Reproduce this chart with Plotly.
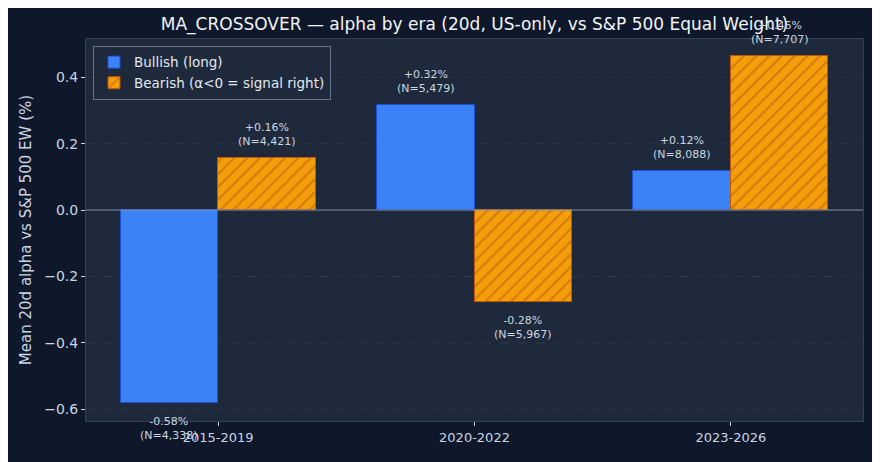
import plotly.graph_objects as go

eras = ["2015-2019", "2020-2022", "2023-2026"]
bull_alpha = [-0.58, 0.316, 0.117]
bull_n = [4338, 5479, 8088]
bear_alpha = [0.156, -0.277, 0.463]
bear_n = [4421, 5967, 7707]
y_ticks = [-0.6, -0.4, -0.2, 0.0, 0.2, 0.4]

xpos = list(range(len(eras)))
W = 0.38

fig = go.Figure()
fig.add_trace(go.Bar(
    x=xpos, y=bull_alpha, width=W, offset=-W, name="Bullish (long)",
    marker=dict(color="#3b82f6", line=dict(color="#1d4ed8", width=1)),
))
fig.add_trace(go.Bar(
    x=xpos, y=bear_alpha, width=W, offset=0, name="Bearish (α<0 = signal right)",
    marker=dict(color="#f59e0b", line=dict(color="#c2560c", width=1),
                pattern=dict(shape="/", fgcolor="#b45309", size=9, solidity=0.22)),
))

def lab(v, n):
    return f"{'+' if v >= 0 else '-'}{abs(v):.2f}%<br>(N={n:,})"

for i in xpos:
    for v, n, cx in ((bull_alpha[i], bull_n[i], i - W / 2), (bear_alpha[i], bear_n[i], i + W / 2)):
        fig.add_annotation(
            x=cx, y=v + (0.025 if v >= 0 else -0.03), text=lab(round(v, 2), n),
            showarrow=False, yanchor="bottom" if v >= 0 else "top",
            font=dict(size=11, color="#cbd5e1", family="DejaVu Sans"),
        )

for t in y_ticks:
    if t != 0:
        fig.add_shape(type="line", xref="paper", x0=0, x1=1, yref="y", y0=t, y1=t,
                      line=dict(color="rgba(148,163,184,0.12)", width=1, dash="dash"), layer="above")
fig.add_shape(type="line", xref="paper", x0=0, x1=1, yref="y", y0=0, y1=0,
              line=dict(color="#8391a7", width=1), layer="above")

fig.update_layout(
    width=880, height=462,
    paper_bgcolor="#0f172a", plot_bgcolor="#1e293b",
    margin=dict(l=78, r=25, t=31, b=49),
    barmode="overlay", bargap=0,
    font=dict(family="DejaVu Sans", color="#cbd5e1"),
    title=dict(text="MA_CROSSOVER — alpha by era (20d, US-only, vs S&P 500 Equal Weight)",
               xref="paper", x=0.5, xanchor="center", y=0.965, yanchor="middle",
               font=dict(size=17, color="#f1f5f9")),
    legend=dict(x=0.009, y=0.982, xanchor="left", yanchor="top",
                bgcolor="#1e293b", bordercolor="#64748b", borderwidth=1,
                font=dict(size=13.5, color="#e2e8f0"), tracegroupgap=0),
    showlegend=True,
)
fig.update_xaxes(range=[-0.515, 2.515], tickvals=xpos, ticktext=eras, showgrid=False,
                 zeroline=False, ticks="outside", ticklen=4, tickcolor="#cbd5e1",
                 showline=True, mirror=True, linecolor="#334155",
                 tickfont=dict(size=13, color="#cbd5e1"))
fig.update_yaxes(range=[-0.635, 0.515], tickvals=y_ticks, tickformat=".1f", showgrid=False,
                 zeroline=False, ticks="outside", ticklen=4, tickcolor="#cbd5e1",
                 showline=True, mirror=True, linecolor="#334155",
                 tickfont=dict(size=14, color="#cbd5e1"),
                 title=dict(text="Mean 20d alpha vs S&P 500 EW (%)", font=dict(size=15, color="#cbd5e1"),
                            standoff=8))

fig.write_html("out.html")
